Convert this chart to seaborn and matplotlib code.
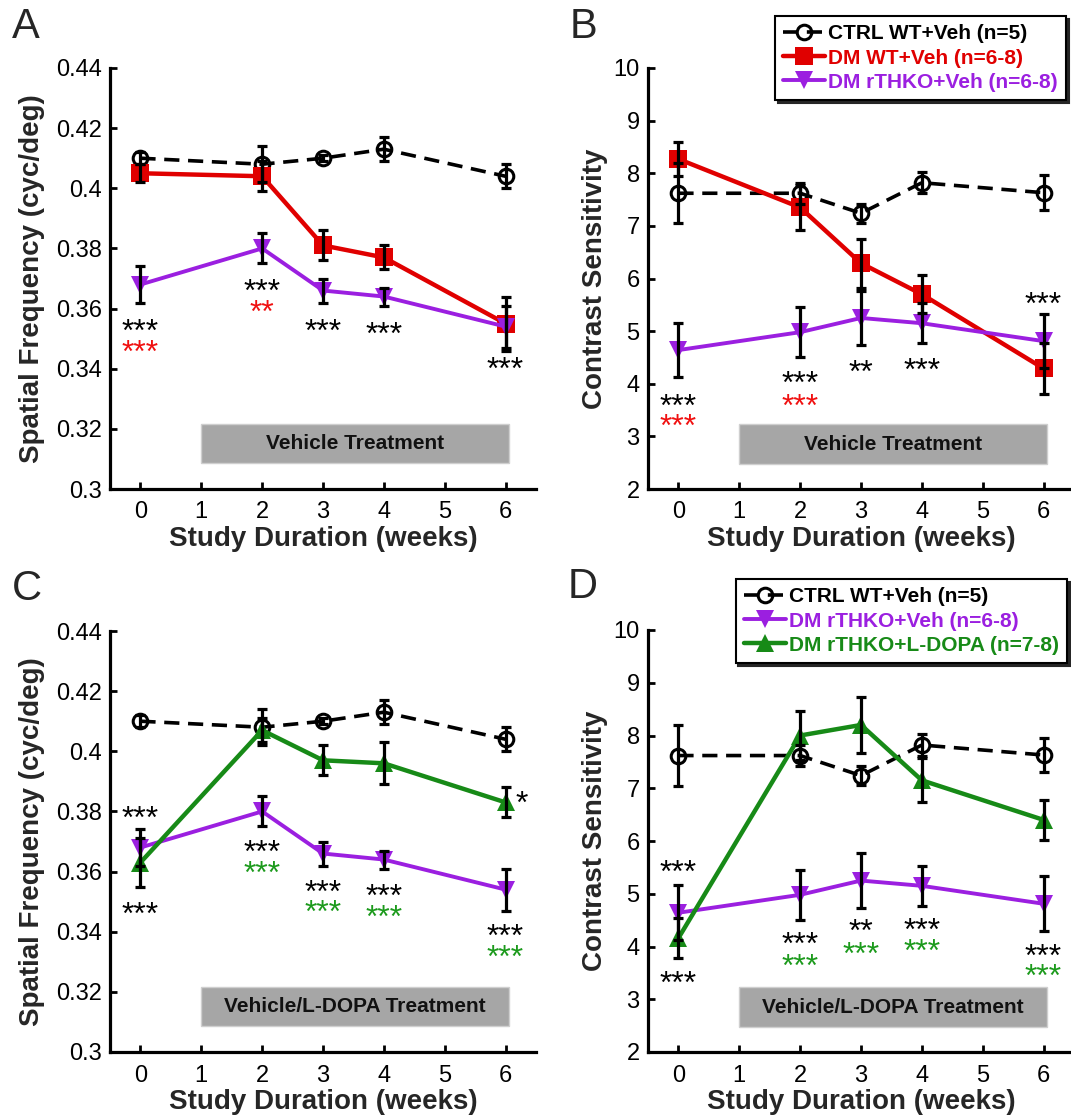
import numpy as np
import pandas as pd
import matplotlib
matplotlib.use("Agg")
import matplotlib.pyplot as plt
import seaborn as sns
from matplotlib.patches import Rectangle

# ---------------- data ----------------
weeks = [0, 2, 3, 4, 6]

sf_ctrl = [0.410, 0.408, 0.410, 0.413, 0.404]
sf_ctrl_err = [0.002, 0.006, 0.001, 0.004, 0.004]
sf_dmwt = [0.405, 0.404, 0.381, 0.377, 0.355]
sf_dmwt_err = [0.003, 0.005, 0.005, 0.004, 0.009]
sf_rthko = [0.368, 0.380, 0.366, 0.364, 0.354]
sf_rthko_err = [0.006, 0.005, 0.004, 0.003, 0.007]
sf_ldopa = [0.363, 0.407, 0.397, 0.396, 0.383]
sf_ldopa_err = [0.008, 0.004, 0.005, 0.007, 0.005]

cs_ctrl = [7.62, 7.62, 7.24, 7.82, 7.63]
cs_ctrl_err = [0.57, 0.20, 0.18, 0.20, 0.33]
cs_dmwt = [8.27, 7.35, 6.29, 5.70, 4.29]
cs_dmwt_err = [0.33, 0.42, 0.47, 0.36, 0.48]
cs_rthko = [4.64, 4.98, 5.25, 5.15, 4.81]
cs_rthko_err = [0.52, 0.47, 0.52, 0.38, 0.52]
cs_ldopa = [4.16, 8.00, 8.20, 7.15, 6.40]
cs_ldopa_err = [0.38, 0.47, 0.53, 0.42, 0.38]

lab_ctrl = "CTRL WT+Veh (n=5)"
lab_dmwt = "DM WT+Veh (n=6-8)"
lab_rthko = "DM rTHKO+Veh (n=6-8)"
lab_ldopa = "DM rTHKO+L-DOPA (n=7-8)"

sf_ticks = [0.30, 0.32, 0.34, 0.36, 0.38, 0.40, 0.42, 0.44]
sf_ticklabels = ["0.3", "0.32", "0.34", "0.36", "0.38", "0.4", "0.42", "0.44"]
cs_ticks = [2, 3, 4, 5, 6, 7, 8, 9, 10]
cs_ticklabels = [str(t) for t in cs_ticks]
week_ticks = [0, 1, 2, 3, 4, 5, 6]

# significance marks: (week, value, text, colour key)
sig_a = [(0, 0.3555, "***", "k"), (0, 0.3485, "***", "r"),
         (2, 0.3688, "***", "k"), (2, 0.3618, "**", "r"),
         (3, 0.3555, "***", "k"), (4, 0.3545, "***", "k"),
         (6, 0.3428, "***", "k")]
sig_b = [(0, 3.75, "***", "k"), (0, 3.37, "***", "r"),
         (2, 4.18, "***", "k"), (2, 3.75, "***", "r"),
         (3, 4.39, "**", "k"), (4, 4.43, "***", "k"),
         (6, 5.68, "***", "k")]
sig_c = [(0, 0.3808, "***", "k"), (0, 0.3486, "***", "k"),
         (2, 0.3695, "***", "k"), (2, 0.3625, "***", "g"),
         (3, 0.3562, "***", "k"), (3, 0.3495, "***", "g"),
         (4, 0.3549, "***", "k"), (4, 0.3479, "***", "g"),
         (6, 0.3416, "***", "k"), (6, 0.3346, "***", "g"),
         (6.25, 0.3858, "*", "k")]
sig_d = [(0, 5.58, "***", "k"), (0, 3.48, "***", "k"),
         (2, 4.22, "***", "k"), (2, 3.80, "***", "g"),
         (3, 4.45, "**", "k"), (3, 4.03, "***", "g"),
         (4, 4.48, "***", "k"), (4, 4.07, "***", "g"),
         (6, 3.99, "***", "k"), (6, 3.61, "***", "g")]

# ---------------- style ----------------
sns.set_theme(style="ticks")
plt.rcParams['font.family'] = ['Liberation Sans', 'DejaVu Sans']

C_CTRL = "black"
C_RED = "#e00000"
C_PURPLE = "#9b1fe0"
C_GREEN = "#178a17"
TXT = {"k": "black", "r": "#f01010", "g": "#1c9a1c"}

fig = plt.figure(figsize=(10.71, 11.2), dpi=100)
W, H = 1071, 1120


def add_axes(left_px, top_px, bottom_px, width_px=426):
    return fig.add_axes([left_px / W, 1 - bottom_px / H, width_px / W, (bottom_px - top_px) / H])


axA = add_axes(110, 68, 489)
axB = add_axes(648, 68, 489)
axC = add_axes(110, 631, 1052)
axD = add_axes(648, 630, 1052)


def draw_series(ax, y, err, color, marker, label, ms, lw, dashed=False, open_marker=False):
    df = pd.DataFrame({"week": weeks, "val": y})
    kw = dict(x="week", y="val", data=df, ax=ax, color=color, marker=marker,
              markersize=ms, linewidth=lw, label=label, errorbar=None, zorder=3)
    if dashed:
        kw["linestyle"] = (0, (4.2, 2.4))
    if open_marker:
        kw.update(markerfacecolor="none", markeredgecolor=color, markeredgewidth=2.2)
    else:
        kw.update(markeredgecolor=color, markeredgewidth=0)
    sns.lineplot(**kw)
    ax.errorbar(weeks, y, yerr=err, fmt="none", ecolor="black", elinewidth=2.3,
                capsize=3.5, capthick=2.3, zorder=4)


def style_axis(ax, ticks, ticklabels, ylim, ylabel, label_x):
    ax.set_xlim(-0.5, 6.5)
    ax.set_ylim(*ylim)
    ax.set_xticks(week_ticks)
    ax.set_xticklabels([str(t) for t in week_ticks])
    ax.set_yticks(ticks)
    ax.set_yticklabels(ticklabels)
    for s in ["top", "right"]:
        ax.spines[s].set_visible(False)
    for s in ["left", "bottom"]:
        ax.spines[s].set_linewidth(2.3)
        ax.spines[s].set_color("black")
    ax.tick_params(axis="both", direction="in", length=5, width=2, colors="black",
                   labelsize=17)
    ax.tick_params(axis="x", pad=9)
    ax.tick_params(axis="y", pad=6)
    ax.set_xlabel("Study Duration (weeks)", fontsize=20, fontweight="bold")
    ax.set_ylabel(ylabel, fontsize=20, fontweight="bold")
    ax.xaxis.set_label_coords(0.5, -0.088)
    ax.yaxis.set_label_coords(label_x, 0.5)
    ax.set_facecolor("white")


def treatment_bar(ax, y0, h, text):
    ax.add_patch(Rectangle((1, y0), 5.05, h, facecolor="#a6a6a6", edgecolor="#cfcfcf",
                           linewidth=1, zorder=1))
    ax.text(3.525, y0 + h / 2, text, ha="center", va="center", fontsize=15,
            fontweight="bold", color="#111111", zorder=2)


def sig_marks(ax, marks):
    fs = 23
    for x, y, t, c in marks:
        ha = "left" if t == "*" else "center"
        xx = x - 0.08 if t == "*" else x
        ax.annotate(t, (xx, y), xytext=(0, -0.58 * fs), textcoords="offset points",
                    ha=ha, va="baseline", fontsize=fs, color=TXT[c], zorder=5,
                    annotation_clip=False)


def legend(ax, anchor):
    h, l = ax.get_legend_handles_labels()
    leg = ax.legend(h, l, loc="upper right", bbox_to_anchor=anchor,
                    bbox_transform=fig.transFigure, labelcolor="linecolor",
                    prop={"weight": "bold", "size": 15}, frameon=True, fancybox=False,
                    edgecolor="black", framealpha=1, handlelength=2.0,
                    handletextpad=0.15, labelspacing=0.25, borderpad=0.4,
                    borderaxespad=0, shadow={"color": "0.15", "alpha": 1, "ox": 2, "oy": -2})
    leg.get_frame().set_linewidth(1.5)


# Panel A
draw_series(axA, sf_ctrl, sf_ctrl_err, C_CTRL, "o", lab_ctrl, 10.5, 2.6, dashed=True, open_marker=True)
draw_series(axA, sf_dmwt, sf_dmwt_err, C_RED, "s", lab_dmwt, 12.5, 3.2)
draw_series(axA, sf_rthko, sf_rthko_err, C_PURPLE, "v", lab_rthko, 12.5, 2.8)
axA.get_legend().remove()
style_axis(axA, sf_ticks, sf_ticklabels, (0.3, 0.44), "Spatial Frequency (cyc/deg)", -0.152)
treatment_bar(axA, 0.3087, 0.0129, "Vehicle Treatment")
sig_marks(axA, sig_a)

# Panel B
draw_series(axB, cs_ctrl, cs_ctrl_err, C_CTRL, "o", lab_ctrl, 10.5, 2.6, dashed=True, open_marker=True)
draw_series(axB, cs_dmwt, cs_dmwt_err, C_RED, "s", lab_dmwt, 12.5, 3.2)
draw_series(axB, cs_rthko, cs_rthko_err, C_PURPLE, "v", lab_rthko, 12.5, 2.8)
style_axis(axB, cs_ticks, cs_ticklabels, (2, 10), "Contrast Sensitivity", -0.094)
treatment_bar(axB, 2.47, 0.76, "Vehicle Treatment")
sig_marks(axB, sig_b)
legend(axB, (1066 / W, 1 - 16 / H))

# Panel C
draw_series(axC, sf_ctrl, sf_ctrl_err, C_CTRL, "o", lab_ctrl, 10.5, 2.6, dashed=True, open_marker=True)
draw_series(axC, sf_rthko, sf_rthko_err, C_PURPLE, "v", lab_rthko, 12.5, 2.8)
draw_series(axC, sf_ldopa, sf_ldopa_err, C_GREEN, "^", lab_ldopa, 12.5, 3.2)
axC.get_legend().remove()
style_axis(axC, sf_ticks, sf_ticklabels, (0.3, 0.44), "Spatial Frequency (cyc/deg)", -0.152)
treatment_bar(axC, 0.3087, 0.0129, "Vehicle/L-DOPA Treatment")
sig_marks(axC, sig_c)

# Panel D
draw_series(axD, cs_ctrl, cs_ctrl_err, C_CTRL, "o", lab_ctrl, 10.5, 2.6, dashed=True, open_marker=True)
draw_series(axD, cs_rthko, cs_rthko_err, C_PURPLE, "v", lab_rthko, 12.5, 2.8)
draw_series(axD, cs_ldopa, cs_ldopa_err, C_GREEN, "^", lab_ldopa, 12.5, 3.2)
style_axis(axD, cs_ticks, cs_ticklabels, (2, 10), "Contrast Sensitivity", -0.094)
treatment_bar(axD, 2.47, 0.76, "Vehicle/L-DOPA Treatment")
sig_marks(axD, sig_d)
legend(axD, (1067 / W, 1 - 579 / H))

# Panel letters
for letter, x, y in [("A", 12, 38), ("B", 570, 38), ("C", 12, 600), ("D", 568, 598)]:
    fig.text(x / W, 1 - y / H, letter, fontsize=30, va="baseline", ha="left")

fig.savefig("out.png", dpi=100, facecolor="white")
